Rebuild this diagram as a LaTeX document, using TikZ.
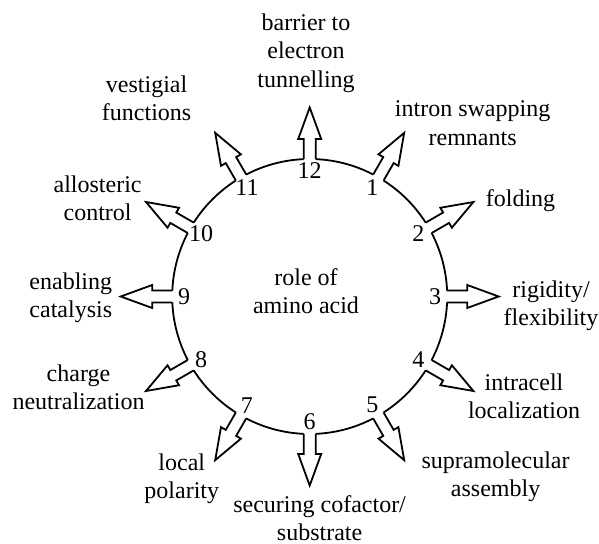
\documentclass[tikz,border=0pt]{standalone}
\usepackage{fontspec}
\setmainfont{Liberation Serif}
\begin{document}
\begin{tikzpicture}[x=0.5pt,y=-0.5pt,
  lbl/.style={font=\fontsize{12}{14.2}\selectfont, align=center, inner sep=0pt},
  num/.style={font=\fontsize{12}{14.2}\selectfont, inner sep=0pt},
  ring/.style={line width=0.9pt},
  blockarrow/.style={draw, line width=0.9pt, line join=miter, fill=white}]
\useasboundingbox (0,0) rectangle (599,544);
\begin{scope}[shift={(309.7,296.5)}, x=0.5pt, y=0.5pt]
  \foreach \n in {1,...,12} {
    \pgfmathsetmacro\a{90-30*\n}
    \draw[ring] (\a+2.5:137.5) arc[start angle=\a+2.5, end angle=\a+27.5, radius=68.75pt];
    \begin{scope}[rotate=\a]
      \draw[blockarrow] (137.37,6) -- (157.5,6) -- (157.5,11.5) -- (189,0) -- (157.5,-11.5) -- (157.5,-6) -- (137.37,-6);
    \end{scope}
    \node[num] (n\n) at (\a:125.5) {\n};
  }
\end{scope}
\node[lbl] (center) at (306,291) {role of\\amino acid};
\node[lbl] (l12) at (306,53) {barrier to\\electron\\tunnelling};
\node[lbl] (l1) at (472.6,123) {intron swapping\\remnants};
\node[lbl] (l2) at (520.5,201) {folding};
\node[lbl] (l3) at (551,306) {rigidity/\\flexibility};
\node[lbl] (l4) at (524,396.5) {intracell\\localization};
\node[lbl] (l5) at (495.6,477) {supramolecular\\assembly};
\node[lbl] (l6) at (319.6,518) {securing cofactor/\\substrate};
\node[lbl] (l7) at (181.8,478.5) {local\\polarity};
\node[lbl] (l8) at (78.5,387.5) {charge\\neutralization};
\node[lbl] (l9) at (70.8,298) {enabling\\catalysis};
\node[lbl] (l10) at (97.6,198) {allosteric\\control};
\node[lbl] (l11) at (146.6,98.5) {vestigial\\functions};
\end{tikzpicture}
\end{document}
